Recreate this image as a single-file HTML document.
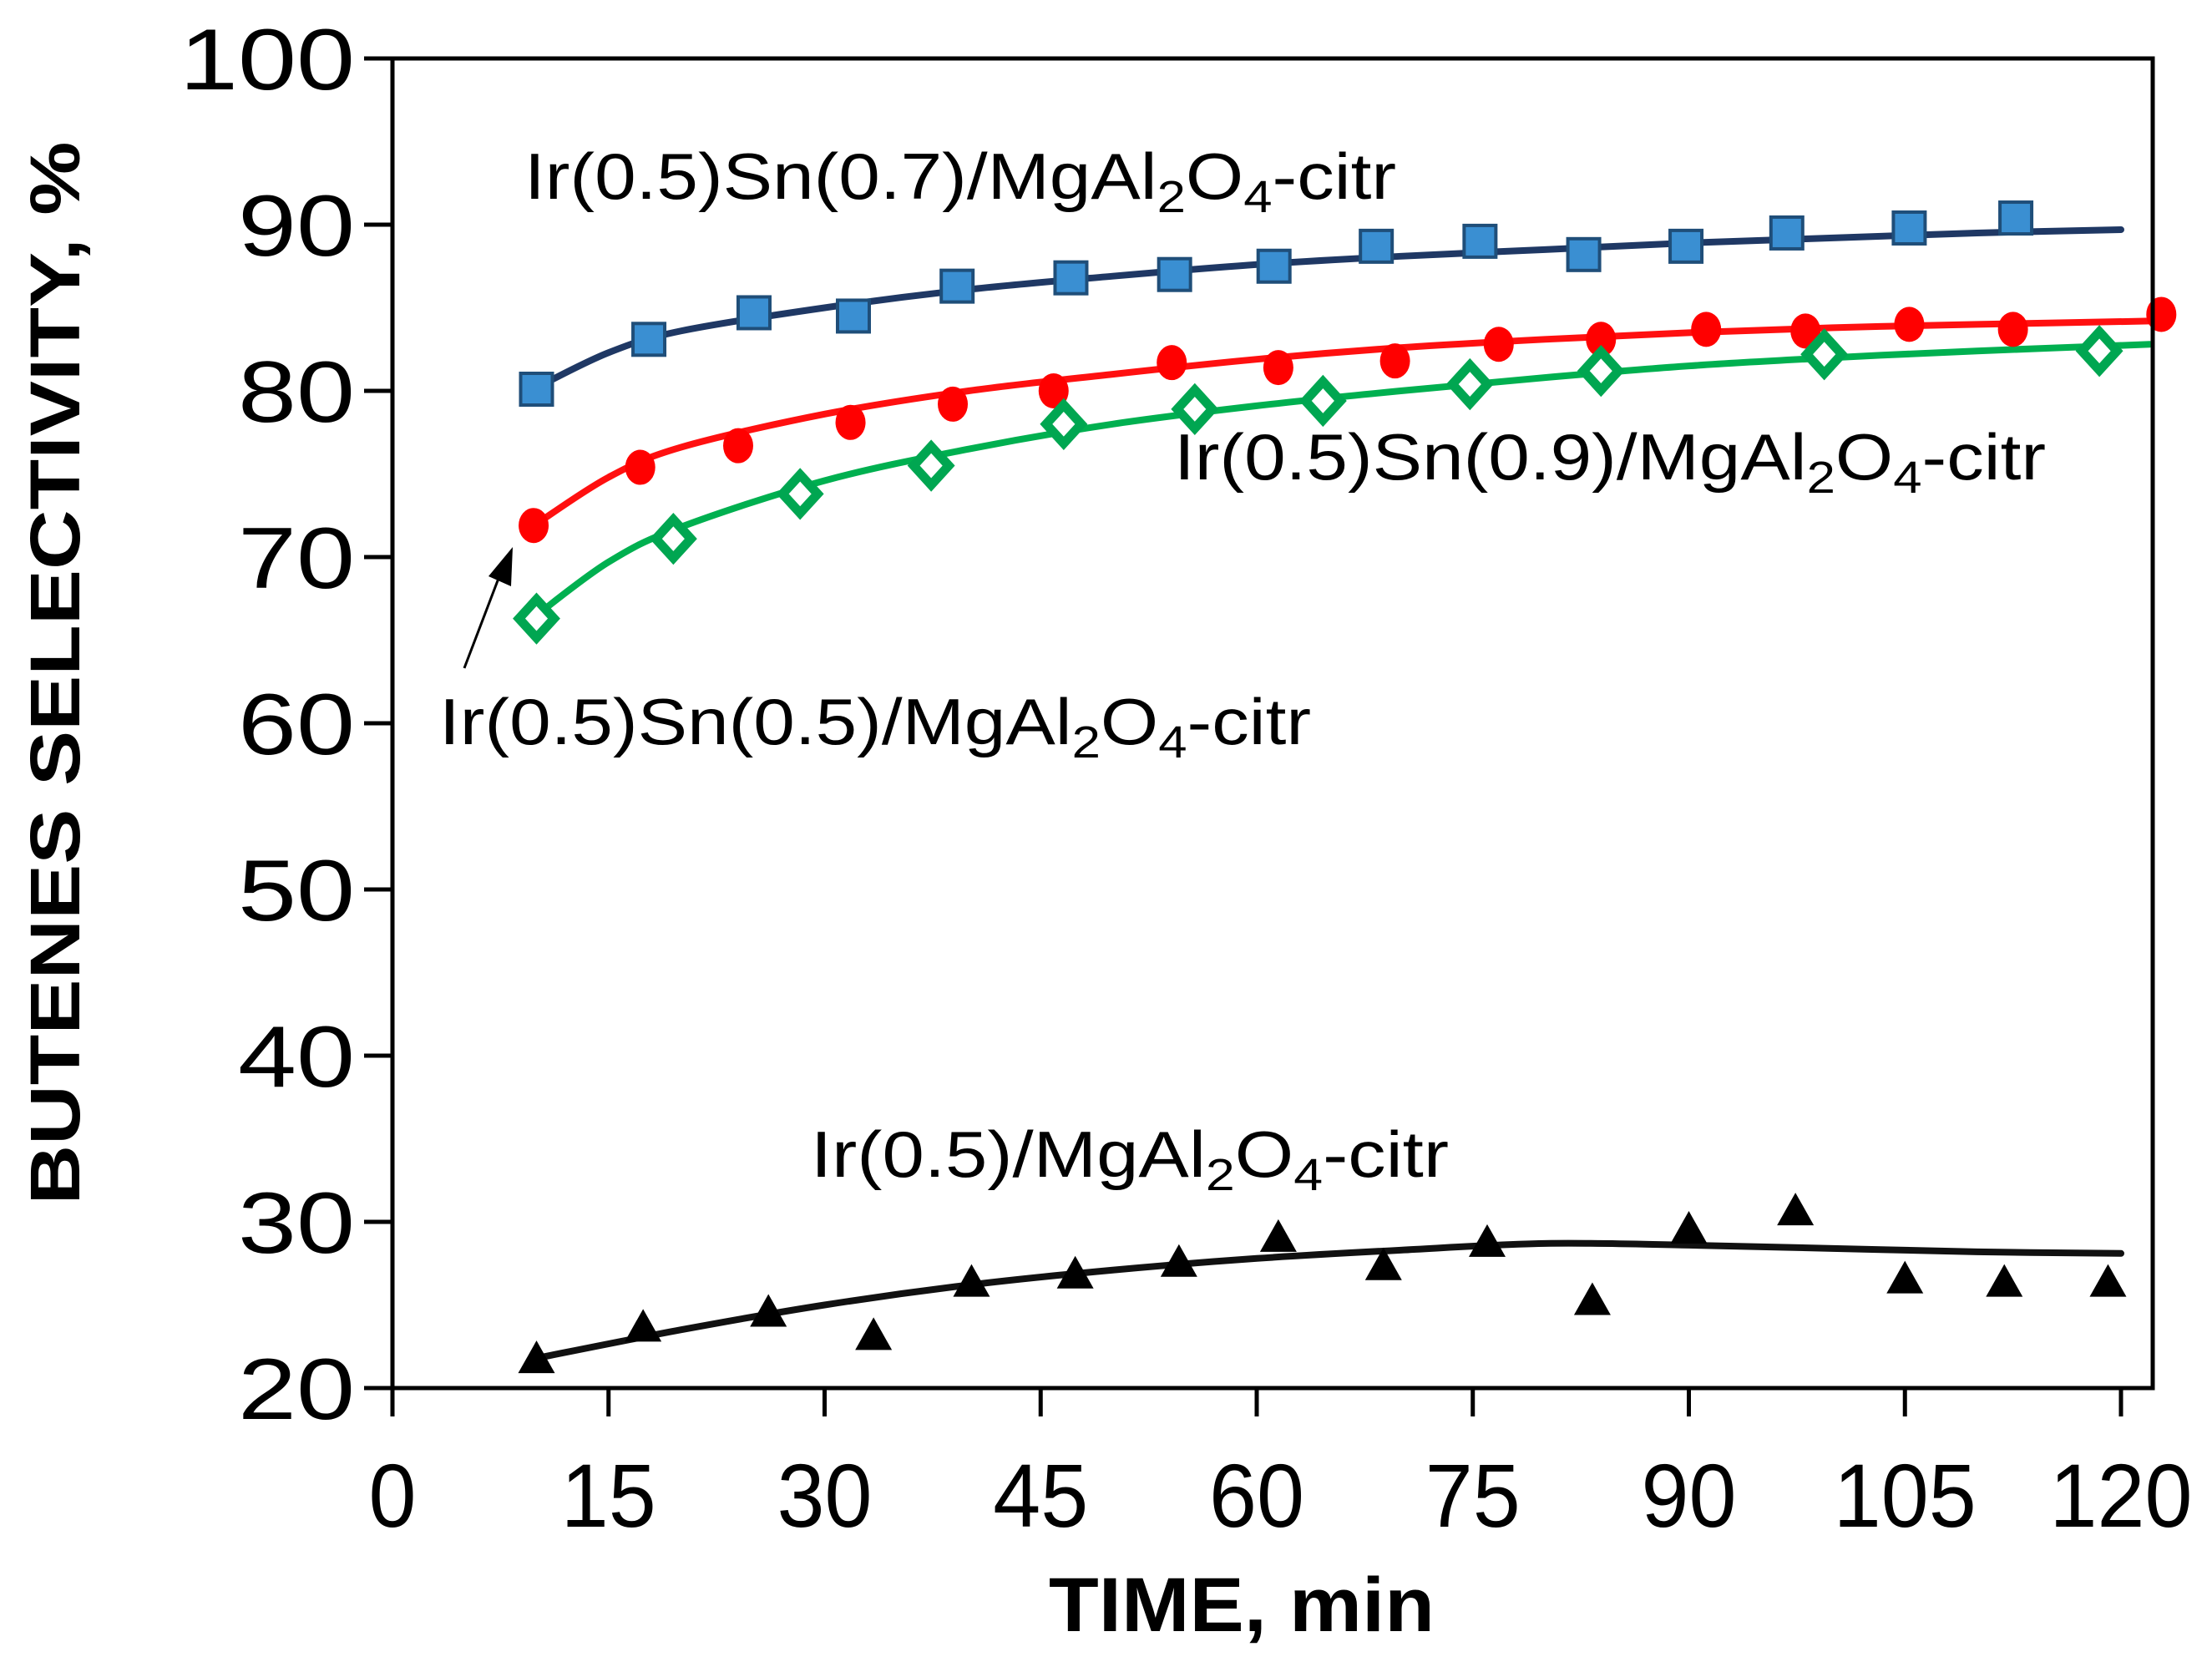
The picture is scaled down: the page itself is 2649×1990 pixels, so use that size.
<!DOCTYPE html>
<html><head><meta charset="utf-8"><style>
html,body{margin:0;padding:0;background:#fff}
svg{display:block}
text{font-family:"Liberation Sans",Arial,sans-serif}
</style></head><body>
<svg id="chart" width="2649" height="1990" viewBox="0 0 2649 1990" xmlns="http://www.w3.org/2000/svg">
<rect width="2649" height="1990" fill="#fff"/>
<g id="marks"></g>
<g id="axes"></g>
<text transform="translate(95,806) rotate(-90)" text-anchor="middle" font-size="84" font-weight="bold" textLength="1273" lengthAdjust="spacingAndGlyphs">BUTENES SELECTIVITY, %</text>
<text x="1487" y="1953" text-anchor="middle" font-size="92" font-weight="bold" textLength="462" lengthAdjust="spacingAndGlyphs">TIME, min</text>
<text x="628" y="238" font-size="78" textLength="1044" lengthAdjust="spacingAndGlyphs">Ir(0.5)Sn(0.7)/MgAl<tspan dy="16" font-size="54">2</tspan><tspan dy="-16">O</tspan><tspan dy="16" font-size="54">4</tspan><tspan dy="-16">-citr</tspan></text>
<text x="1406" y="574" font-size="78" textLength="1044" lengthAdjust="spacingAndGlyphs">Ir(0.5)Sn(0.9)/MgAl<tspan dy="16" font-size="54">2</tspan><tspan dy="-16">O</tspan><tspan dy="16" font-size="54">4</tspan><tspan dy="-16">-citr</tspan></text>
<text x="526" y="891" font-size="78" textLength="1044" lengthAdjust="spacingAndGlyphs">Ir(0.5)Sn(0.5)/MgAl<tspan dy="16" font-size="54">2</tspan><tspan dy="-16">O</tspan><tspan dy="16" font-size="54">4</tspan><tspan dy="-16">-citr</tspan></text>
<text x="971" y="1409" font-size="78" textLength="764" lengthAdjust="spacingAndGlyphs">Ir(0.5)/MgAl<tspan dy="16" font-size="54">2</tspan><tspan dy="-16">O</tspan><tspan dy="16" font-size="54">4</tspan><tspan dy="-16">-citr</tspan></text>
<g>
<line x1="556" y1="800" x2="598" y2="690" stroke="#000" stroke-width="3"/>
<polygon points="614,655 585,690 612,702" fill="#000"/>
</g>
</svg>
<script>
const xTicks=[0,15,30,45,60,75,90,105,120];
const yTicks=[20,30,40,50,60,70,80,90,100];

const blueX=[10,17.8,25.1,32,39.2,47.1,54.3,61.2,68.3,75.5,82.7,89.8,96.8,105.3,112.7];
const blueY=[80.1,83.1,84.7,84.5,86.3,86.8,87.0,87.5,88.7,89.0,88.2,88.7,89.5,89.8,90.4];
const blueFitX=[10,15,20,30,40,50,60,70,80,90,100,110,120];
const blueFitY=[80.2,82.3,83.6,85.0,86.1,86.9,87.6,88.1,88.5,88.9,89.2,89.5,89.7];

const redX=[9.8,17.2,24,31.8,38.9,45.9,54.1,61.5,69.6,76.8,83.9,91.2,98.1,105.3,112.5,122.8];
const redY=[71.9,75.4,76.7,78.1,79.2,80.0,81.7,81.4,81.8,82.8,83.1,83.7,83.6,84.0,83.7,84.6];
const redFitX=[10,15,20,30,40,50,60,70,80,90,100,110,122];
const redFitY=[72.0,74.8,76.6,78.6,80.0,81.0,81.9,82.6,83.1,83.5,83.8,84.0,84.2];

const greenX=[10,19.5,28.3,37.4,46.6,55.7,64.6,74.8,83.9,99.4,118.5];
const greenY=[66.3,71.1,73.8,75.5,78.0,78.9,79.4,80.4,81.2,82.2,82.4];
const greenFitX=[10,15,20,30,40,50,60,70,80,90,100,110,122];
const greenFitY=[66.5,69.7,71.8,74.6,76.5,78.0,79.1,80.0,80.8,81.5,82.0,82.4,82.8];

const blackX=[10,17.4,26.1,33.4,40.2,47.4,54.6,61.5,68.8,76,83.3,90,97.4,105,111.9,119.1];
const blackY=[21.8,23.7,24.6,23.2,26.4,26.9,27.6,29.1,27.4,28.8,25.3,29.6,30.7,26.6,26.4,26.4];
const blackFitX=[10,20,30,40,50,60,70,80,90,100,110,120];
const blackFitY=[21.8,23.5,25.0,26.2,27.1,27.8,28.3,28.7,28.6,28.4,28.2,28.1];

const X0=470,XPER=17.25,Y0=1662,YPER=19.9;
function sx(v){return X0+v*XPER;}
function sy(v){return Y0-(v-20)*YPER;}
const NS="http://www.w3.org/2000/svg";
const marks=document.getElementById('marks');
const axes=document.getElementById('axes');
function mk(tag,attrs,parent){const e=document.createElementNS(NS,tag);for(const k in attrs)e.setAttribute(k,attrs[k]);parent.appendChild(e);return e;}

function smoothPath(xs,ys){
  const p=xs.map((x,i)=>[sx(x),sy(ys[i])]);
  let d='M'+p[0][0]+','+p[0][1];
  for(let i=0;i<p.length-1;i++){
    const p0=p[Math.max(0,i-1)],p1=p[i],p2=p[i+1],p3=p[Math.min(p.length-1,i+2)];
    const c1x=p1[0]+(p2[0]-p0[0])/6,c1y=p1[1]+(p2[1]-p0[1])/6;
    const c2x=p2[0]-(p3[0]-p1[0])/6,c2y=p2[1]-(p3[1]-p1[1])/6;
    d+=' C'+c1x+','+c1y+' '+c2x+','+c2y+' '+p2[0]+','+p2[1];
  }
  return d;
}
function fit(xs,ys,color,name){
  const e=mk('path',{d:smoothPath(xs,ys),fill:'none',stroke:color,'stroke-width':8,'stroke-linecap':'round'},marks);
  
  
}
fit(blueFitX,blueFitY,'#1f3864','fit-line-sn07');
fit(redFitX,redFitY,'#ff1010','fit-line-sn05');
fit(greenFitX,greenFitY,'#00b050','fit-line-sn09');
fit(blackFitX,blackFitY,'#111','fit-line-ir');

blueX.forEach((x,i)=>{const cx=sx(x),cy=sy(blueY[i]);
  const e=mk('rect',{x:cx-19,y:cy-19,width:38,height:38,fill:'#3a8fd2',stroke:'#1f4e79','stroke-width':4},marks);
  
  });
redX.forEach((x,i)=>{const cx=sx(x),cy=sy(redY[i]);
  const e=mk('ellipse',{cx:cx,cy:cy,rx:18,ry:21,fill:'#ff0000'},marks);
  
  });
greenX.forEach((x,i)=>{const cx=sx(x),cy=sy(greenY[i]);
  const e=mk('polygon',{points:cx+','+(cy-23)+' '+(cx+21)+','+cy+' '+cx+','+(cy+23)+' '+(cx-21)+','+cy,fill:'#fff',stroke:'#00a651','stroke-width':11,'stroke-linejoin':'miter'},marks);
  
  });
blackX.forEach((x,i)=>{const cx=sx(x),cy=sy(blackY[i]);
  const e=mk('polygon',{points:(cx)+','+(cy-21)+' '+(cx+22)+','+(cy+18)+' '+(cx-22)+','+(cy+18),fill:'#000'},marks);
  
  });

const fr=mk('rect',{x:X0,y:sy(100),width:2578-X0,height:Y0-sy(100),fill:'none',stroke:'#000','stroke-width':5},axes);


yTicks.forEach(v=>{
  const y=sy(v);
  const t=mk('line',{x1:436,y1:y,x2:X0,y2:y,stroke:'#000','stroke-width':5},axes);
  
  
  const s=String(v);
  const l=mk('text',{x:425,y:y+37,'text-anchor':'end','font-size':104,textLength:s.length*70,lengthAdjust:'spacingAndGlyphs'},axes);
  l.textContent=s;
  
  
});
xTicks.forEach(v=>{
  const x=sx(v);
  const t=mk('line',{x1:x,y1:Y0,x2:x,y2:1696,stroke:'#000','stroke-width':5},axes);
  
  
  const s=String(v);
  const l=mk('text',{x:x,y:1828,'text-anchor':'middle','font-size':108,textLength:s.length*57,lengthAdjust:'spacingAndGlyphs'},axes);
  l.textContent=s;
  
  
});
</script>
</body></html>
